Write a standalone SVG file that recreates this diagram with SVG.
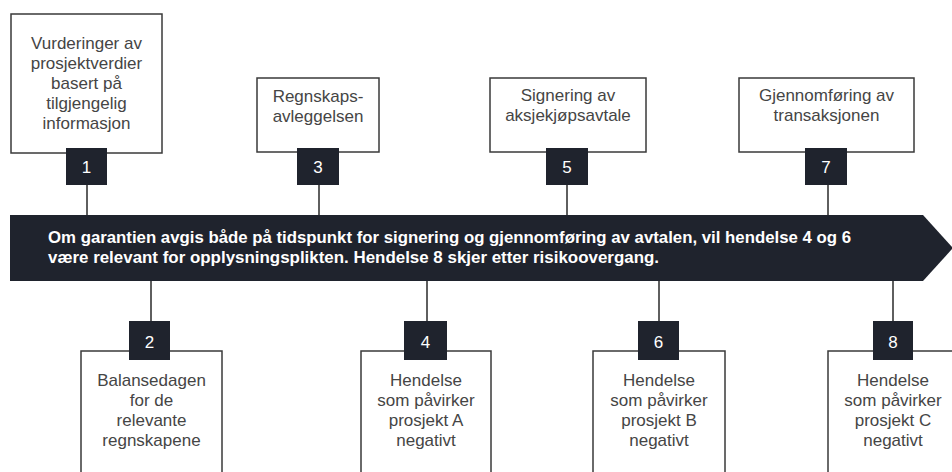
<svg xmlns="http://www.w3.org/2000/svg" width="952" height="472" viewBox="0 0 952 472">
<style>
.box{fill:#ffffff;stroke:#3a3a3a;stroke-width:1.5}
.num{fill:#1f232d}
.numt{font-family:"Liberation Sans",Arial,sans-serif;font-size:17px;fill:#ffffff;text-anchor:middle}
.lbl{font-family:"Liberation Sans",Arial,sans-serif;font-size:17px;fill:#454545;text-anchor:middle}
.bar{fill:#1f232d}
.bart{font-family:"Liberation Sans",Arial,sans-serif;font-size:16.5px;font-weight:bold;fill:#ffffff}
.con{stroke:#2a2a2a;stroke-width:1.5;fill:none}
</style>
<rect width="952" height="472" fill="#ffffff"/>
<g id="connectors">
<line class="con" x1="87" y1="185" x2="87" y2="215"/>
<line class="con" x1="319" y1="185" x2="319" y2="215"/>
<line class="con" x1="567" y1="185" x2="567" y2="215"/>
<line class="con" x1="828" y1="185" x2="828" y2="215"/>
<line class="con" x1="151" y1="281" x2="151" y2="321"/>
<line class="con" x1="427" y1="281" x2="427" y2="321"/>
<line class="con" x1="659" y1="281" x2="659" y2="321"/>
<line class="con" x1="893" y1="281" x2="893" y2="321"/>
</g>
<g id="timeline">
<polygon class="bar" points="10,215 923,215 953,248 923,281 10,281"/>
<text class="bart" x="48" y="243" textLength="803" lengthAdjust="spacingAndGlyphs">Om garantien avgis både på tidspunkt for signering og gjennomføring av avtalen, vil hendelse 4 og 6</text>
<text class="bart" x="48" y="263" textLength="611" lengthAdjust="spacingAndGlyphs">være relevant for opplysningsplikten. Hendelse 8 skjer etter risikoovergang.</text>
</g>
<g id="node1">
<rect class="box" x="11" y="14" width="151" height="139"/>
<text class="lbl" x="86.5" y="49">Vurderinger av</text>
<text class="lbl" x="86.5" y="69">prosjektverdier</text>
<text class="lbl" x="86.5" y="89">basert på</text>
<text class="lbl" x="86.5" y="109">tilgjengelig</text>
<text class="lbl" x="86.5" y="129">informasjon</text>
<rect class="num" x="66" y="148" width="41" height="37"/>
<text class="numt" x="86.5" y="173">1</text>
</g>
<g id="node3">
<rect class="box" x="257" y="78" width="122" height="74"/>
<text class="lbl" x="318" y="102">Regnskaps-</text>
<text class="lbl" x="318" y="122">avleggelsen</text>
<rect class="num" x="297" y="148" width="42" height="37"/>
<text class="numt" x="318" y="173">3</text>
</g>
<g id="node5">
<rect class="box" x="490" y="78" width="156" height="74"/>
<text class="lbl" x="568" y="101">Signering av</text>
<text class="lbl" x="568" y="121">aksjekjøpsavtale</text>
<rect class="num" x="546" y="148" width="42" height="37"/>
<text class="numt" x="567" y="173">5</text>
</g>
<g id="node7">
<rect class="box" x="739" y="78" width="175" height="74"/>
<text class="lbl" x="826.5" y="101">Gjennomføring av</text>
<text class="lbl" x="826.5" y="121">transaksjonen</text>
<rect class="num" x="805" y="148" width="42" height="37"/>
<text class="numt" x="826" y="173">7</text>
</g>
<g id="node2">
<rect class="box" x="81" y="351" width="141" height="130"/>
<text class="lbl" x="151.5" y="386">Balansedagen</text>
<text class="lbl" x="151.5" y="406">for de</text>
<text class="lbl" x="151.5" y="426">relevante</text>
<text class="lbl" x="151.5" y="446">regnskapene</text>
<rect class="num" x="129" y="321" width="41" height="39"/>
<text class="numt" x="149.5" y="348">2</text>
</g>
<g id="node4">
<rect class="box" x="361" y="351" width="130" height="130"/>
<text class="lbl" x="426" y="386">Hendelse</text>
<text class="lbl" x="426" y="406">som påvirker</text>
<text class="lbl" x="426" y="426">prosjekt A</text>
<text class="lbl" x="426" y="446">negativt</text>
<rect class="num" x="404" y="321" width="43" height="39"/>
<text class="numt" x="425.5" y="348">4</text>
</g>
<g id="node6">
<rect class="box" x="593" y="351" width="132" height="130"/>
<text class="lbl" x="659" y="386">Hendelse</text>
<text class="lbl" x="659" y="406">som påvirker</text>
<text class="lbl" x="659" y="426">prosjekt B</text>
<text class="lbl" x="659" y="446">negativt</text>
<rect class="num" x="638" y="321" width="41" height="39"/>
<text class="numt" x="658.5" y="348">6</text>
</g>
<g id="node8">
<rect class="box" x="828" y="351" width="132" height="130"/>
<text class="lbl" x="893" y="386">Hendelse</text>
<text class="lbl" x="893" y="406">som påvirker</text>
<text class="lbl" x="893" y="426">prosjekt C</text>
<text class="lbl" x="893" y="446">negativt</text>
<rect class="num" x="873" y="321" width="40" height="39"/>
<text class="numt" x="893" y="348">8</text>
</g>
</svg>
